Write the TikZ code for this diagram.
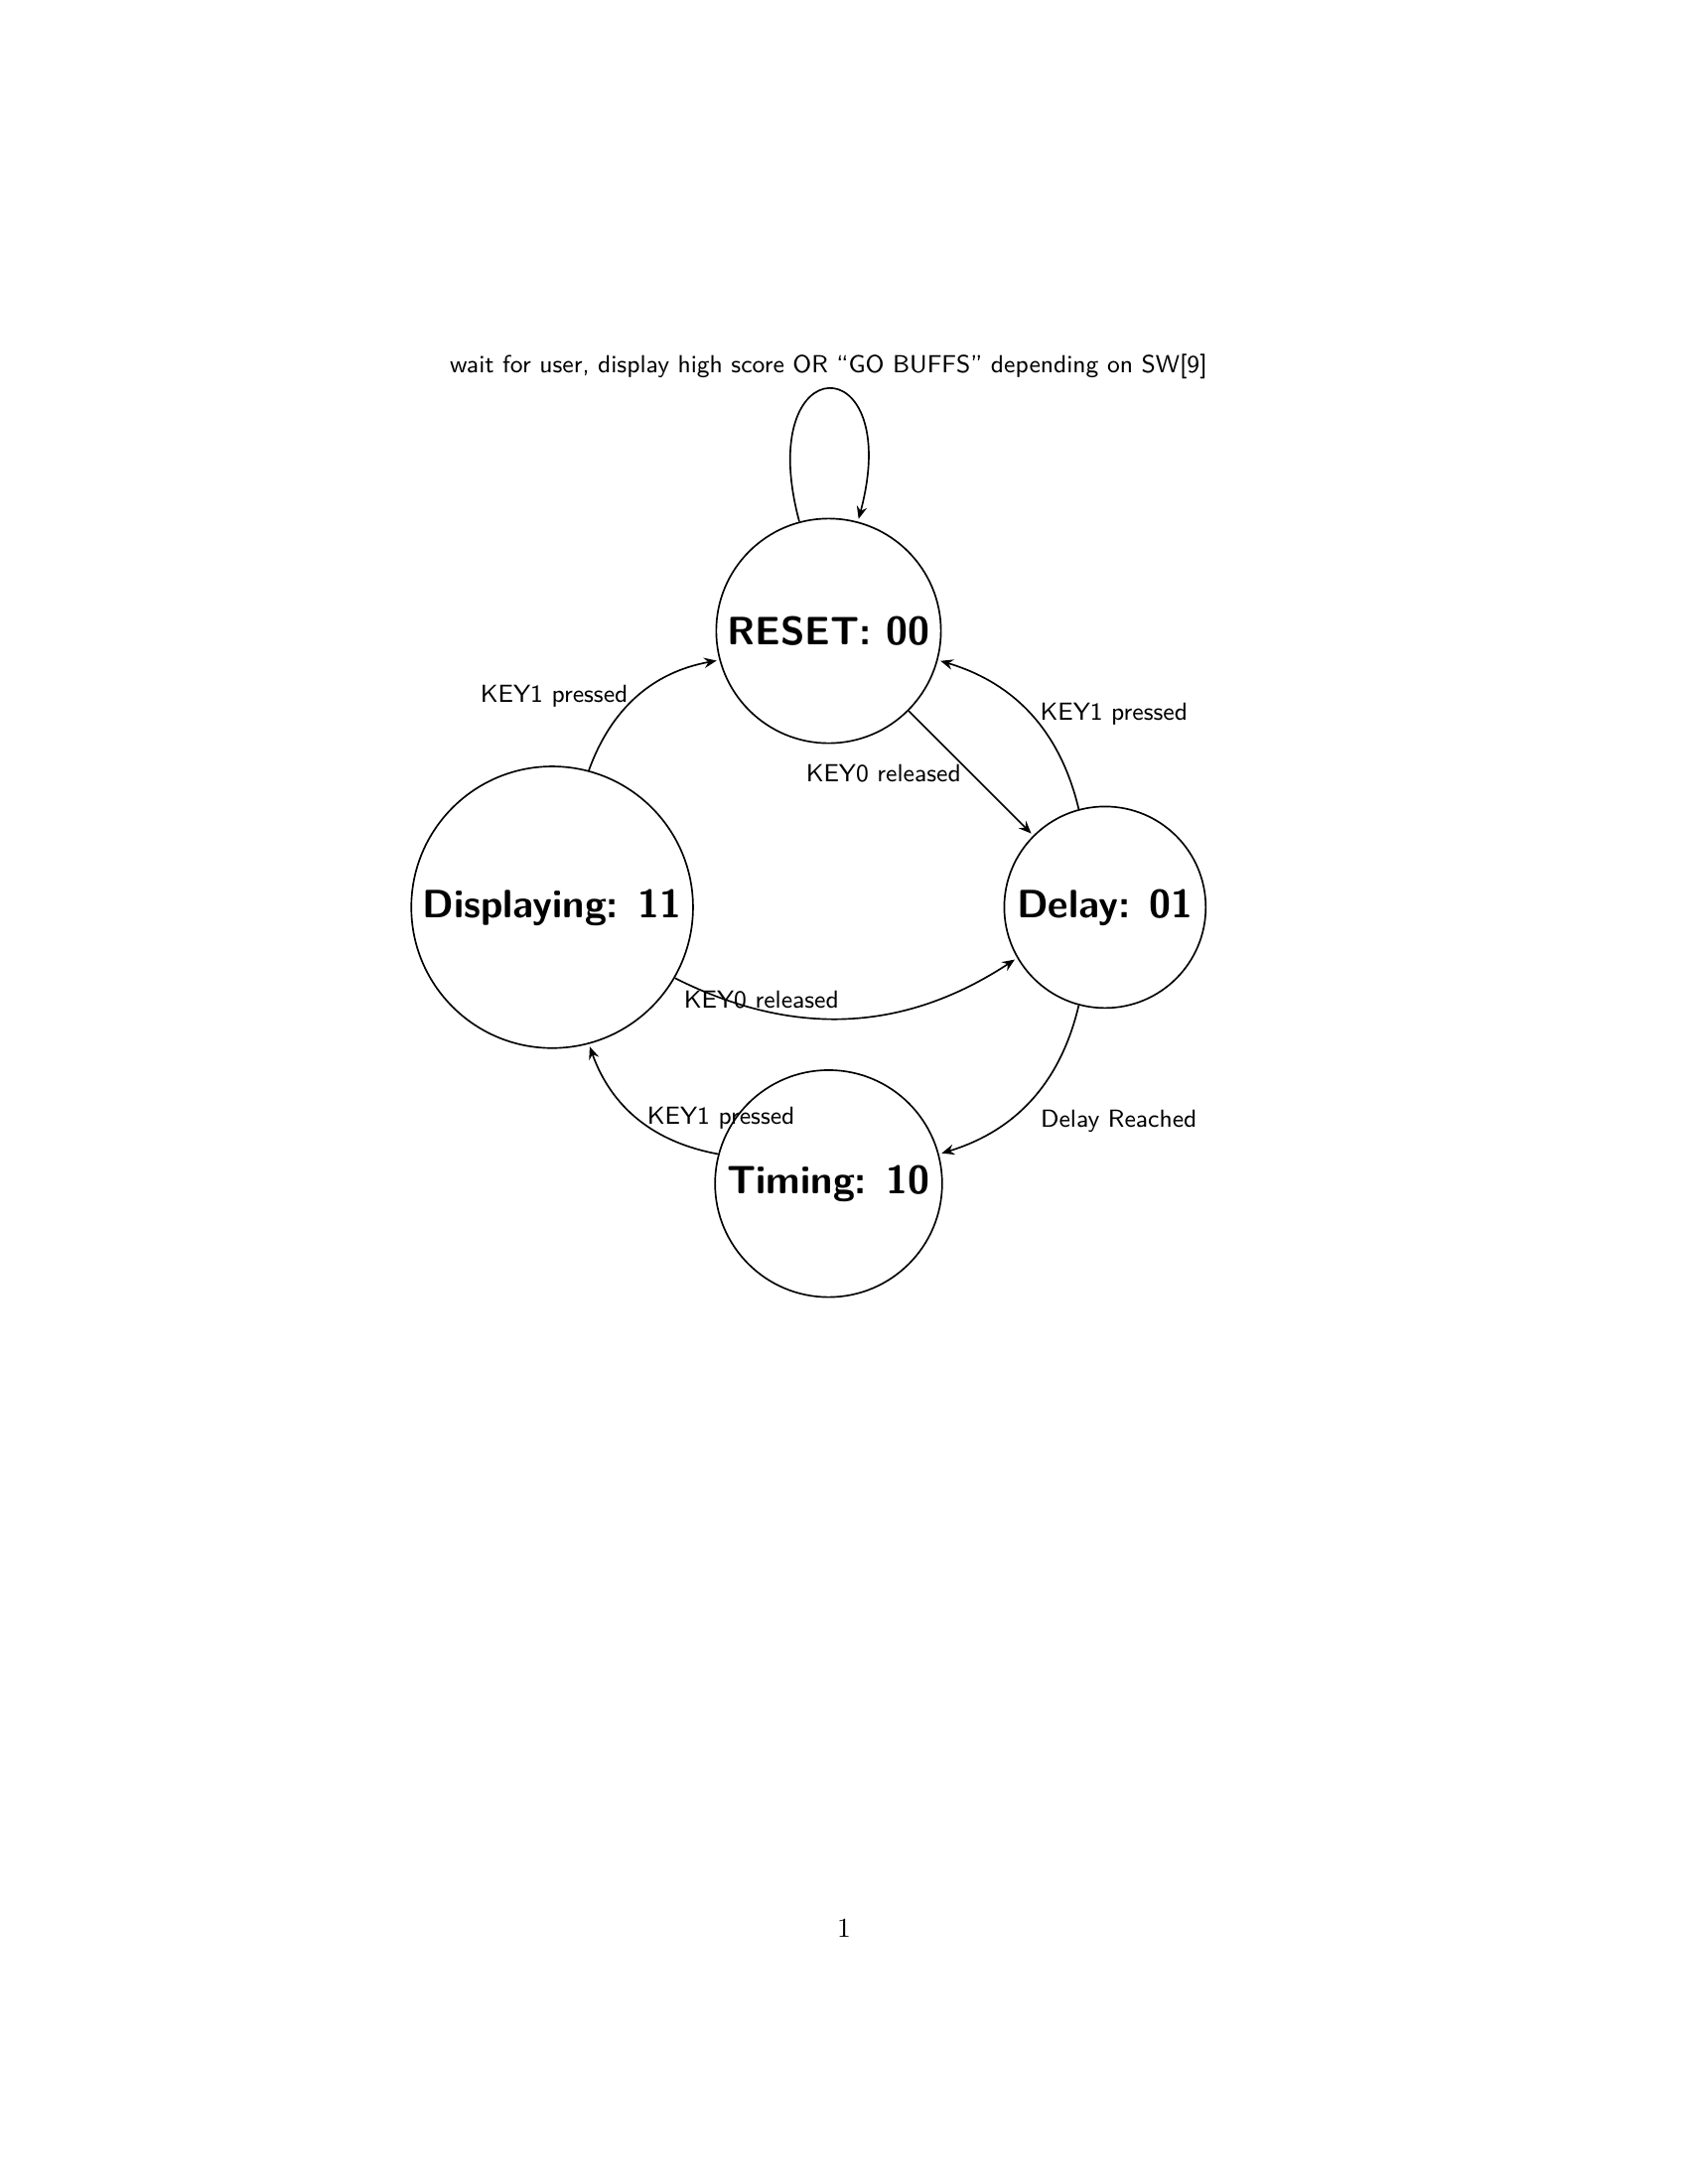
\documentclass[tikz,border=0pt]{standalone}
\usetikzlibrary{automata,arrows.meta,positioning}
\begin{document}
\begin{tikzpicture}[->,>={Stealth[length=4.6pt,width=3.8pt,inset=1.6pt]},shorten >=1pt,auto,node distance=5cm,semithick,
  every node/.style={font=\sffamily\small},
  every state/.style={draw,font=\sffamily\Large\bfseries},
  pagenum/.style={font=\rmfamily\normalsize,anchor=base,inner sep=0pt}]
\useasboundingbox (-10.598,8.071) rectangle (10.992,-19.869);
\node[state] (R) {RESET: 00};
\node[state] (D) [below right of=R] {Delay: 01};
\node[state] (S) [below left of=R] {Displaying: 11};
\node[state] (T) [below right of=S] {Timing: 10};
\path (R) edge [loop above] node[above] {wait for user, display high score OR ``GO BUFFS'' depending on SW[9]} (R)
          edge node[left] {KEY0 released} (D)
      (D) edge [bend right] node[right] {KEY1 pressed} (R)
          edge [bend left] node[below right] {Delay Reached} (T)
      (S) edge [bend left] node[left] {KEY1 pressed} (R)
          edge [bend right] node[above left] {KEY0 released} (D)
      (T) edge [bend left] node[right] {KEY1 pressed} (S);
\node[pagenum] (pg) at (0.197,-16.716) {1};
\end{tikzpicture}
\end{document}
